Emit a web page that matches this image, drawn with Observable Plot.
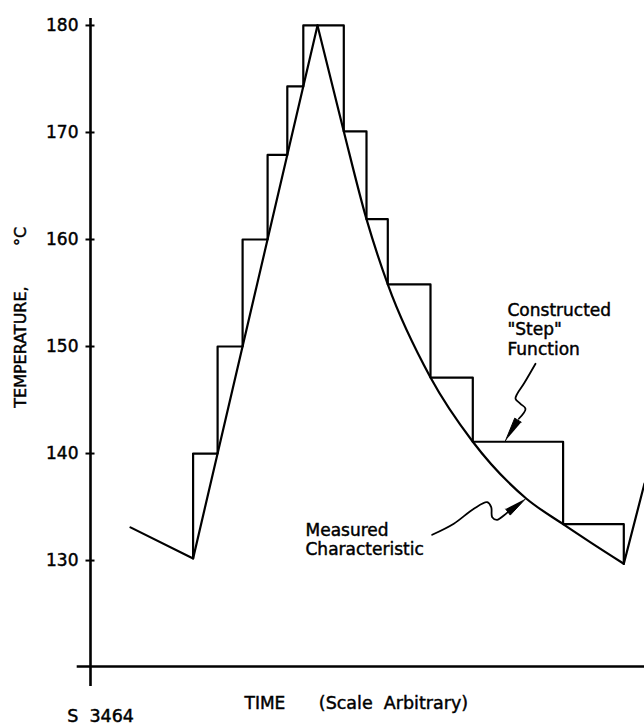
<!DOCTYPE html>
<html>
<head>
<meta charset="utf-8">
<script src="https://cdn.jsdelivr.net/npm/d3@7"></script>
<script src="https://cdn.jsdelivr.net/npm/@observablehq/plot@0.6"></script>
<style>
  body { margin: 0; background: #fff; }
  svg { display: block; }
  svg text { stroke: black; stroke-width: 0.45px; }
</style>
</head>
<body>
<div id="chart"></div>
<script>
// ---- Data (time in arbitrary units, temperature in °C) ----
const yTicks = [130, 140, 150, 160, 170, 180];

// Measured characteristic: cooling, linear heat-up, exponential-like decay, heat-up again
const measuredRiseT = [4.0, 10.26, 22.7];
const measuredRiseV = [133.1, 130.2, 180];
const measuredFallT = [22.7, 25.33, 27.6, 29.73, 34.0, 38.23, 43.57, 47.26, 50.0, 53.33];
const measuredFallV = [180, 170.1, 161.9, 155.8, 147.1, 141.1, 135.8, 133.4, 131.7, 129.7];
const measuredRise2T = [53.33, 55.4];
const measuredRise2V = [129.7, 137.2];

// Constructed "step" function (step-before corners)
const stepT = [10.26, 12.71, 15.21, 17.71, 19.68, 21.28, 25.33, 27.6, 29.73, 34.0, 38.23, 47.26, 53.33, 53.33];
const stepV = [130.2, 140, 150, 160, 167.9, 174.3, 180, 170.1, 161.9, 155.8, 147.1, 141.1, 133.4, 129.7];

// Annotation leader lines
const leader1T = [44.5, 43.33, 42.67, 42.5, 43.0, 43.5, 42.83];
const leader1V = [148.39, 146.52, 145.58, 145.12, 144.65, 144.18, 143.25];
const arrow1Tip = [41.5, 141.2];
const leader2T = [34.17, 36.33, 38.33, 39.67, 40.07, 40.17, 40.67, 41.33, 41.73];
const leader2V = [132.41, 133.44, 134.84, 135.45, 134.99, 134.05, 133.81, 134.21, 134.52];
const arrow2Tip = [43.5, 135.77];

const stepLabel = "Constructed\n\"Step\"\nFunction";
const measLabel = "Measured\nCharacteristic";
const yLabel = "TEMPERATURE,";
const yUnit = "°C";
const xLabel = "TIME";
const xNote = "(Scale\u00a0\u00a0Arbitrary)";
const figId = "S\u00a0\u00a03464";

// ---- Layout ----
const W = 644, H = 727, mL = 90, mR = 0, mT = 18, mB = 61;
const xDom = [0, 55.4], yDom = [120.1, 180.65];
const kx = (W - mL - mR) / (xDom[1] - xDom[0]);
const ky = (H - mT - mB) / (yDom[1] - yDom[0]);

const zip = (a, b) => a.map((v, i) => ({t: v, v: b[i]}));

// Filled arrowhead triangle computed from tip and the leader's last point
function head(tip, base, len, halfW) {
  const tx = tip[0] * kx, ty = -tip[1] * ky;
  const bx0 = base.t * kx, by0 = -base.v * ky;
  const dx = tx - bx0, dy = ty - by0, L = Math.hypot(dx, dy);
  const ux = dx / L, uy = dy / L;
  const bx = tx - ux * len, by = ty - uy * len;
  const px = -uy * halfW, py = ux * halfW;
  return [
    {t: tip[0], v: tip[1]},
    {t: (bx + px) / kx, v: -(by + py) / ky},
    {t: (bx - px) / kx, v: -(by - py) / ky}
  ];
}

const lead1 = zip(leader1T, leader1V);
const lead2 = zip(leader2T, leader2V);
const head1 = head(arrow1Tip, lead1[lead1.length - 1], 24, 3.8);
const head2 = head(arrow2Tip, lead2[lead2.length - 1], 22, 3.8);

const font = "DejaVu Sans";
const lw = 2.2;

const chart = Plot.plot({
  width: W, height: H,
  marginLeft: mL, marginRight: mR, marginTop: mT, marginBottom: mB,
  style: {fontFamily: font, background: "white", color: "black"},
  x: {domain: xDom, axis: null},
  y: {domain: yDom, axis: null},
  marks: [
    // axes lines
    Plot.ruleX([0], {y1: 118.23, y2: yDom[1], stroke: "black", strokeWidth: 2.6}),
    Plot.ruleY([yDom[0]], {x1: -1.33, x2: xDom[1], stroke: "black", strokeWidth: 2.4}),
    // tick crosses
    Plot.ruleY(yTicks, {x1: -0.45, x2: 0.45, stroke: "black", strokeWidth: 2}),
    Plot.axisY(yTicks, {tickSize: 0, tickPadding: 12, fontSize: 17, fontFamily: font, label: null, fill: "black"}),
    // measured characteristic
    Plot.line(zip(measuredRiseT, measuredRiseV), {x: "t", y: "v", stroke: "black", strokeWidth: lw}),
    Plot.line(zip(measuredFallT, measuredFallV), {x: "t", y: "v", curve: "monotone-x", stroke: "black", strokeWidth: lw}),
    Plot.line(zip(measuredRise2T, measuredRise2V), {x: "t", y: "v", stroke: "black", strokeWidth: lw}),
    // step function
    Plot.line(zip(stepT, stepV), {x: "t", y: "v", curve: "step-before", stroke: "black", strokeWidth: lw}),
    // leaders
    Plot.line(lead1, {x: "t", y: "v", curve: "catmull-rom", stroke: "black", strokeWidth: 1.8}),
    Plot.line(lead2, {x: "t", y: "v", curve: "catmull-rom", stroke: "black", strokeWidth: 1.8}),
    Plot.line(head1, {x: "t", y: "v", fill: "black", stroke: "black", strokeWidth: 1}),
    Plot.line(head2, {x: "t", y: "v", fill: "black", stroke: "black", strokeWidth: 1}),
    // annotation texts
    Plot.text([stepLabel], {x: 41.7, y: 151.64, textAnchor: "start", lineHeight: 1.15, fontSize: 17, fontFamily: font, fill: "black"}),
    Plot.text([measLabel], {x: 21.5, y: 131.99, textAnchor: "start", lineHeight: 1.15, fontSize: 17, fontFamily: font, fill: "black"}),
    // axis labels
    Plot.text([yLabel], {x: -7.0, y: 149.95, rotate: -90, fontSize: 16, fontFamily: font, fill: "black"}),
    Plot.text([yUnit], {x: -7.0, y: 160.28, rotate: -90, fontSize: 16, fontFamily: font, fill: "black"}),
    Plot.text([xLabel], {x: 15.4, y: 116.62, textAnchor: "start", fontSize: 17, fontFamily: font, fill: "black"}),
    Plot.text([xNote], {x: 22.83, y: 116.62, textAnchor: "start", fontSize: 17.5, fontFamily: font, fill: "black"}),
    Plot.text([figId], {x: -2.33, y: 115.47, textAnchor: "start", fontSize: 17.5, fontFamily: font, fill: "black"})
  ]
});
document.getElementById("chart").appendChild(chart);
</script>
</body>
</html>
